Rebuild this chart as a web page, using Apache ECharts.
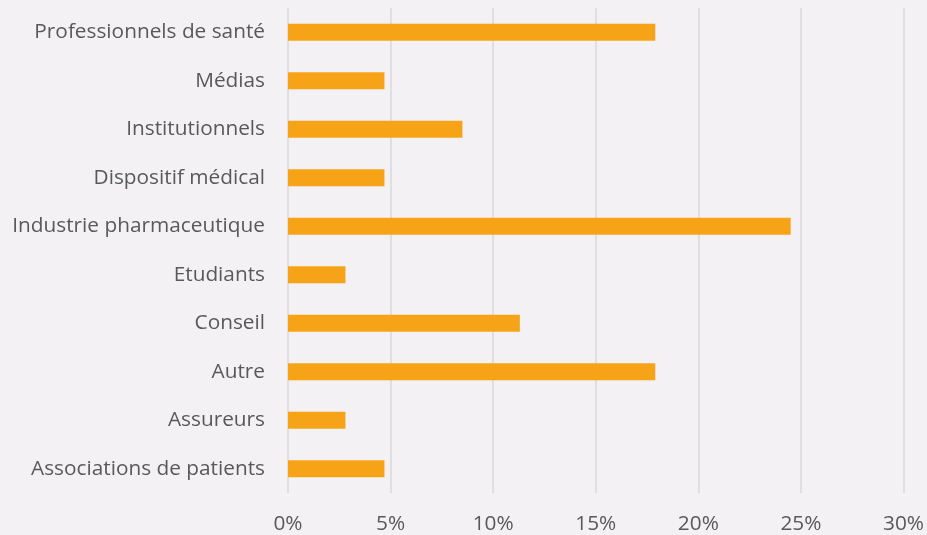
<!DOCTYPE html>
<html><head><meta charset="utf-8">
<script src="https://cdn.jsdelivr.net/npm/echarts@6/dist/echarts.min.js"></script>
<style>html,body{margin:0;padding:0;background:#f3f1f4;}#c{width:927px;height:535px;}</style>
</head><body><div id="c"></div>
<script>
const categories = ["Associations de patients","Assureurs","Autre","Conseil","Etudiants","Industrie pharmaceutique","Dispositif médical","Institutionnels","Médias","Professionnels de santé"];
const values = [4.7, 2.8, 17.9, 11.3, 2.8, 24.5, 4.7, 8.5, 4.7, 17.9];
const tickMax = 30, tickStep = 5;
const chart = echarts.init(document.getElementById('c'), null, {renderer:'canvas'});
chart.setOption({
  backgroundColor:'#f3f1f4',
  animation:false,
  grid:{left:288,right:22.5,top:8,bottom:42,containLabel:false},
  xAxis:{type:'value',min:0,max:tickMax,interval:tickStep,
    axisLine:{show:false},axisTick:{show:false},
    splitLine:{lineStyle:{color:'#d9d9d9',width:1.5}},
    axisLabel:{formatter:v=>v+'%',color:'#595959',fontSize:20.8,fontFamily:'Open Sans',margin:21}},
  yAxis:{type:'category',data:categories,
    axisLine:{show:false},axisTick:{show:false},
    axisLabel:{color:'#595959',fontSize:20.8,fontFamily:'Open Sans',margin:23}},
  series:[{type:'bar',data:values,barWidth:17,itemStyle:{color:'#f6a317'}}]
});
</script></body></html>
